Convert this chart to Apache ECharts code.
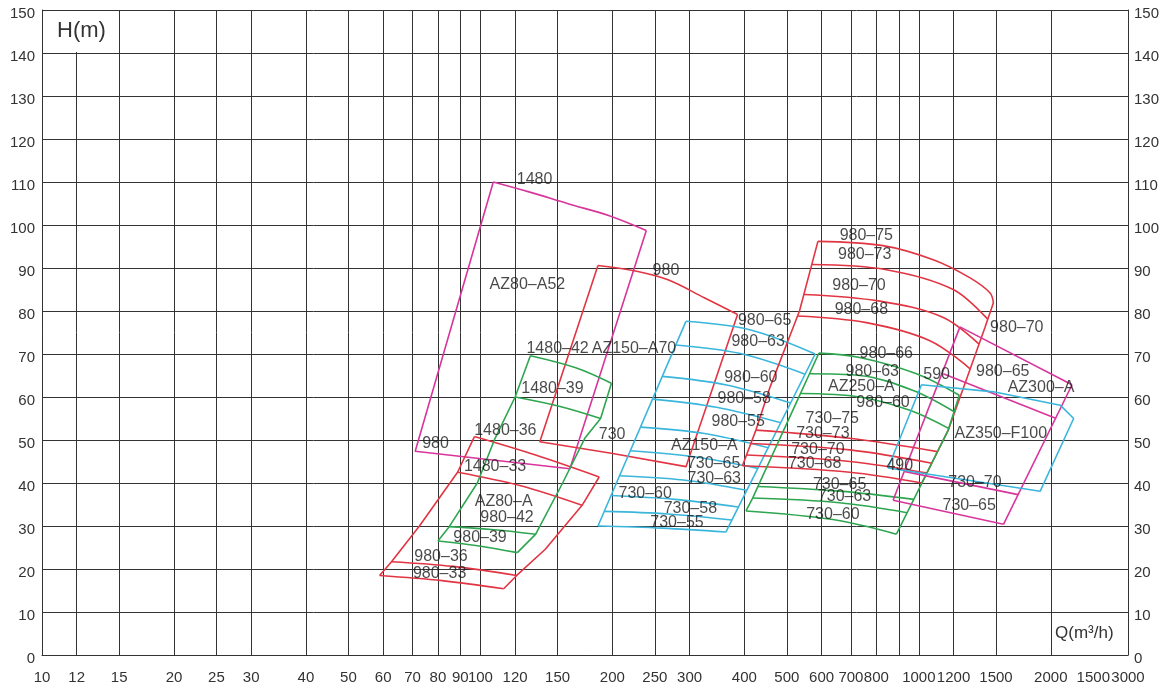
<!DOCTYPE html>
<html><head><meta charset="utf-8">
<script src="https://cdn.jsdelivr.net/npm/echarts@6/dist/echarts.min.js"></script>
<style>html,body{margin:0;padding:0;background:#fff}#c{width:1166px;height:693px}</style>
</head><body><div id="c"></div>
<script>
// ---------- axis ticks ----------
const xGridValues = [10,12,15,20,25,30,40,50,60,70,80,90,100,120,150,200,250,300,400,500,600,700,800,900,1000,1200,1500,2000,3000];
const xLabelValues = [10,12,15,20,25,30,40,50,60,70,80,90,100,120,150,200,250,300,400,500,600,700,800,1000,1200,1500,2000,2500,3000];
const xLabelTexts = ['10','12','15','20','25','30','40','50','60','70','80','90','100','120','150','200','250','300','400','500','600','700','800','1000','1200','1500','2000','1500','3000'];

// ---------- AZ80-A52 (magenta) ----------
const az80a52Curves = [
  [[107,110],[129,107.7],[159,104.9],[196,102.2],[239,98.7]]
];
const az80a52Edges = [
  [[239,98.7],[160,43.3],[71,47.4],[107,110]]
];
const az80a52Labels = [[132.9,110.6,'1480'],[79,49.2,'980'],[128,86.1,'AZ80–A52']];

// ---------- AZ150-A70 (red) ----------
const az150a70Curves = [
  [[185.4,90.6],[228.6,89.2],[267,87.3],[324,83.1],[386,79.2]]
];
const az150a70Edges = [
  [[386,79.2],[294.4,43.8],[198.8,46.9],[136.6,49.6],[185.4,90.6]]
];
const az150a70Labels = [[265,89.4,'980'],[199.7,51.2,'730'],[224,71.2,'AZ150–A70']];

// ---------- AZ80-A (red part) ----------
const az80aRedCurves = [
  [[96.9,50.8],[133.6,46.5],[186.6,41.4]],
  [[88.7,42.5],[123,39.4],[170.6,34.8]],
  [[62.7,21.7],[86.7,20.6],[121,18.5]],
  [[58.9,18.5],[81.8,17.3],[113,15.4]]
];
const az80aRedEdges = [
  [[58.9,18.5],[62.7,21.7],[72.6,30],[88.7,42.5],[96.9,50.8]],
  [[113,15.4],[121,18.5],[140.6,24.6],[170.6,34.8],[186.6,41.4]]
];
// ---------- AZ80-A (green part) ----------
const az80aGreenCurves = [
  [[130,69.6],[165,66.8],[199,63.2]],
  [[120,60],[152,57.8],[188,55]],
  [[84.9,29.85],[106,29.2],[133.7,28.1]],
  [[80,26.5],[98.5,25.4],[121.4,23.8]]
];
const az80aGreenEdges = [
  [[80,26.5],[84.9,29.85],[98.4,40],[108,50.4],[120,60],[130,69.6]],
  [[121.4,23.8],[133.7,28.1],[154,40],[173,50.4],[188,55],[199,63.2]]
];
const az80aLabels = [
  [150,71.2,'1480–42'],[146,61.9,'1480–39'],[114,52.3,'1480–36'],[108,43.7,'1480–33'],
  [113,35.6,'AZ80–A'],[115,31.9,'980–42'],[99.8,27.3,'980–39'],[81.3,22.8,'980–36'],[80.7,19,'980–33']
];

// ---------- AZ150-A (cyan) ----------
const az150aCurves = [
  [[294.3,77.6],[413.4,75.6],[580.2,70]],
  [[279.3,72.1],[392,70.1],[550.2,65.3]],
  [[260,64.8],[364.2,62.8],[510,58.6]],
  [[246.9,59.5],[345.6,57.6],[484,54.0]],
  [[232.1,53.0],[324.3,51.5],[453.4,48.2]],
  [[219.8,47.5],[307.1,46.1],[429,43.4]],
  [[207.8,41.7],[290.2,40.7],[405,38.3]],
  [[198.8,37.1],[277.5,36.2],[387.4,34.4]],
  [[191.8,33.4],[268,32.8],[374.6,31.4]],
  [[185.4,30.0],[259.4,29.5],[362.9,28.6]]
];
const az150aEdges = [
  [[294.3,77.6],[185.4,30.0]],
  [[580.2,70],[362.9,28.6]]
];
const az150aLabels = [
  [445,77.8,'980–65'],[430,72.9,'980–63'],[413.8,64.6,'980–60'],[399.6,59.6,'980–58'],[387.3,54.2,'980–55'],
  [324.2,48.6,'AZ150–A'],[340.3,44.5,'730–65'],[341.5,41.0,'730–63'],[237.6,37.5,'730–60'],[301.2,34.1,'730–58'],[280.8,30.8,'730–55']
];

// ---------- AZ250-A (red part) ----------
const az250RedCurves = [
  [[588.6,96.2],[828.6,95.2],[1078.7,91.9],[1308.6,87.7],[1453.9,84.2],[1479.7,81.9]],
  [[570.2,90.8],[843.5,89.6],[1198,85.0],[1436,78.1]],
  [[546.7,83.85],[814.4,82.3],[1137,78.5],[1372,72.3]],
  [[528.8,78.85],[759.2,77.3],[1059.8,73.1],[1311,66.5]],
  [[425,52.3],[695.3,50.4],[1103,47.3]],
  [[414,49.2],[695.3,47.7],[1071,44.6]],
  [[405,46.5],[695.3,45.0],[1043,42.3]],
  [[396,44.0],[695.3,42.5],[1016,40.0]]
];
const az250RedEdges = [
  [[588.6,96.2],[534.3,80],[457.8,62.3],[425,52.3],[396,44.0]],
  [[1479.7,81.9],[1416,76.2],[1281,63.8],[1167,52.3],[1016,40.0]]
];
// ---------- AZ250-A (green part) ----------
const az250GreenCurves = [
  [[591.6,70.2],[733,69.2],[988,65.4],[1237,60.4]],
  [[563.2,65.4],[733,65.0],[970.7,61.5],[1207,56.5]],
  [[537,60.8],[733,60.0],[953.7,56.9],[1169,52.7]],
  [[429.6,39.2],[659.6,38.1],[974,36.2]],
  [[417.8,36.5],[659.6,35.4],[940.6,33.1]],
  [[403.4,33.5],[636.8,31.5],[889,28.1]]
];
const az250GreenEdges = [
  [[591.6,70.2],[563.2,65.4],[537,60.8],[429.6,39.2],[417.8,36.5],[403.4,33.5]],
  [[1237,60.4],[1167,52.3],[974,36.2],[940.6,33.1],[889,28.1]]
];
const az250Labels = [
  [759,97.5,'980–75'],[752.6,93.1,'980–73'],[730.4,85.8,'980–70'],[739.5,80.4,'980–68'],
  [843,70.0,'980–66'],[783,65.9,'980–63'],[739.5,62.5,'AZ250–A'],[828.6,58.8,'980–60'],
  [634.6,55.0,'730–75'],[604,51.5,'730–73'],[588.6,47.8,'730–70'],[578.4,44.6,'730–68'],
  [659.6,39.6,'730–65'],[677,36.8,'730–63'],[636.8,32.7,'730–60'],
  [1098,65.2,'590'],[905,44.0,'490']
];

// ---------- AZ300-A (magenta) ----------
const az300Curves = [
  [[1241,76.3],[2236,62.85]],
  [[1137,65.4],[2058,55.0]],
  [[925.8,42.7],[1685,37.3]],
  [[873.6,36.0],[1560,30.4]]
];
const az300Edges = [
  [[873.6,36.0],[1241,76.3]],
  [[2236,62.85],[1560,30.4]]
];
const az300Labels = [[1673,76.2,'980–70'],[1554,65.8,'980–65'],[1900,62.3,'AZ300–A'],[1343,40.2,'730–70'],[1303,34.8,'730–65']];

// ---------- AZ350-F100 (cyan) ----------
const az350Edges = [
  [[1014,62.85],[1480,61.2],[2102,58.1],[2255,55.0],[1892,38.1],[851,43.5],[1014,62.85]]
];
const az350Labels = [[1538,51.5,'AZ350–F100']];

// ---------- colours ----------
const RED = '#e23543', MAGENTA = '#d8359c', GREEN = '#2ea650', CYAN = '#3ab6dc';
const FONT = '"Liberation Sans", Arial, Helvetica, sans-serif';

const series = [];
function addLines(lines, color, smooth) {
  lines.forEach(pts => series.push({
    type: 'line', data: pts.map(p => [Math.log10(p[0]), p[1]]),
    smooth: smooth ? 0.35 : false, symbol: 'none', silent: true, animation: false,
    lineStyle: { color: color, width: 1.6 }, z: 3
  }));
}
addLines(az80a52Curves, MAGENTA, true); addLines(az80a52Edges, MAGENTA, false);
addLines(az150a70Curves, RED, true); addLines(az150a70Edges, RED, false);
addLines(az80aRedCurves, RED, true); addLines(az80aRedEdges, RED, false);
addLines(az80aGreenCurves, GREEN, true); addLines(az80aGreenEdges, GREEN, false);
addLines(az150aCurves, CYAN, true); addLines(az150aEdges, CYAN, false);
addLines(az250RedCurves, RED, true); addLines(az250RedEdges, RED, false);
addLines(az250GreenCurves, GREEN, true); addLines(az250GreenEdges, GREEN, false);
addLines(az300Curves, MAGENTA, true); addLines(az300Edges, MAGENTA, false);
addLines(az350Edges, CYAN, false);

const allLabels = [].concat(az80a52Labels, az150a70Labels, az80aLabels, az150aLabels, az250Labels, az300Labels, az350Labels);
series.push({
  type: 'scatter', symbolSize: 2, itemStyle: { color: 'rgba(0,0,0,0)' }, silent: true, animation: false, z: 6,
  data: allLabels.map(l => ({ value: [Math.log10(l[0]), l[1]], name: l[2] })),
  label: { show: true, position: 'inside', formatter: '{b}', color: '#1a1a1a', fontSize: 16, fontFamily: FONT },
  labelLayout: { hideOverlap: false }
});

const axisCol = '#333';
const chart = echarts.init(document.getElementById('c'), null, { renderer: 'canvas' });
chart.setOption({
  backgroundColor: '#fff',
  animation: false,
  grid: { left: 42, right: 38, top: 10, bottom: 38 },
  xAxis: {
    type: 'value', min: Math.log10(10), max: Math.log10(3000),
    axisLine: { show: true, lineStyle: { color: axisCol, width: 1 } },
    axisTick: { show: false, customValues: xGridValues.map(v => Math.log10(v)) },
    axisLabel: {
      customValues: xLabelValues.map(v => Math.log10(v)),
      formatter: v => { for (let i = 0; i < xLabelValues.length; i++) { if (Math.abs(Math.log10(xLabelValues[i]) - v) < 1e-6) return xLabelTexts[i]; } return ''; },
      color: '#333', fontSize: 15, fontFamily: FONT, margin: 15
    },
    splitLine: { show: true, lineStyle: { color: axisCol, width: 1 } }
  },
  yAxis: [
    { type: 'value', min: 0, max: 150, interval: 10, position: 'left',
      axisLine: { show: true, lineStyle: { color: axisCol } }, axisTick: { show: false },
      axisLabel: { color: '#333', fontSize: 15, fontFamily: FONT, margin: 7, verticalAlign: 'top', lineHeight: 8 },
      splitLine: { show: true, lineStyle: { color: axisCol, width: 1 } } },
    { type: 'value', min: 0, max: 150, interval: 10, position: 'right',
      axisLine: { show: true, lineStyle: { color: axisCol } }, axisTick: { show: false },
      axisLabel: { color: '#333', fontSize: 15, fontFamily: FONT, margin: 6, verticalAlign: 'top', lineHeight: 8 },
      splitLine: { show: false } }
  ],
  graphic: [
    { type: 'rect', left: 43, top: 11, shape: { width: 75, height: 41 }, style: { fill: '#fff' }, z: 100 },
    { type: 'text', left: 57, top: 20, style: { text: 'H(m)', font: '22px ' + FONT, fill: '#333' }, z: 101 },
    { type: 'text', left: 1055, top: 625, style: { text: 'Q(m³/h)', font: '17px ' + FONT, fill: '#333' }, z: 101 }
  ],
  series: series
});
</script></body></html>
